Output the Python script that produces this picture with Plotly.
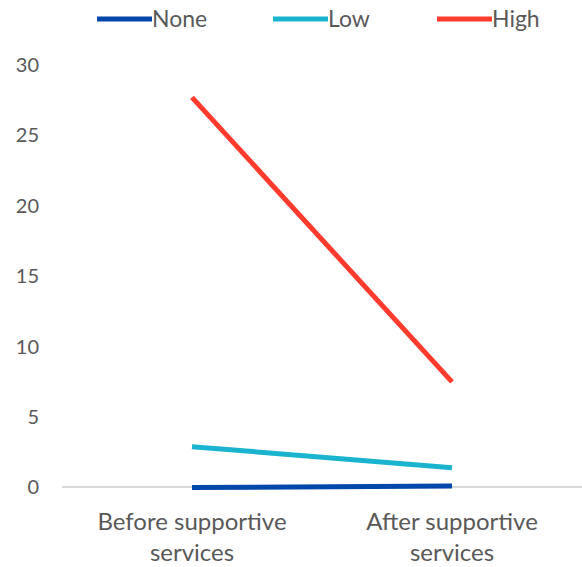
import plotly.graph_objects as go

# Categories and series values
stages = ["Before supportive<br>services", "After supportive<br>services"]
series_names = ["None", "Low", "High"]
none_vals = [0.0, 0.1]
low_vals = [2.9, 1.4]
high_vals = [27.7, 7.5]
y_ticks = [0, 5, 10, 15, 20, 25, 30]

colors = {"None": "#0047AB", "Low": "#1AB4CF", "High": "#FF3B2E"}
values = {"None": none_vals, "Low": low_vals, "High": high_vals}

W, H = 582, 567
FONT = "Lato, Open Sans, Liberation Sans, sans-serif"
TXT = "#595959"

fig = go.Figure()
for name in series_names:
    fig.add_trace(go.Scatter(
        x=[0, 1], y=values[name], mode="lines", name=name,
        line=dict(color=colors[name], width=5),
        showlegend=False,
    ))

# Legend drawn across the top: line swatch followed by label
legend_pos = {"None": 97, "Low": 273, "High": 437}
ly = 1 + (65 - 19) / (491.5 - 65)
for name in series_names:
    x0 = legend_pos[name]
    fig.add_shape(type="line", xref="paper", yref="paper",
                  x0=(x0 - 62) / (W - 62), x1=(x0 + 55 - 62) / (W - 62),
                  y0=ly, y1=ly,
                  line=dict(color=colors[name], width=5))
    fig.add_annotation(xref="paper", yref="paper",
                       x=(x0 + 55 - 62) / (W - 62), y=ly,
                       xanchor="left", yanchor="middle", showarrow=False,
                       xshift=-2, yshift=1, text=name,
                       font=dict(family=FONT, size=23, color=TXT))

fig.update_layout(
    width=W, height=H,
    margin=dict(l=62, r=0, t=65, b=75.5),
    paper_bgcolor="white", plot_bgcolor="white",
    font=dict(family=FONT, color=TXT),
)
fig.update_xaxes(
    range=[-0.5, 1.5], tickvals=[0, 1], ticktext=stages,
    showgrid=False, zeroline=False, showline=False,
    tickfont=dict(family=FONT, size=24, color=TXT),
    ticks="", ticklabelstandoff=14,
)
# small margin below zero so the baseline series is not clipped
fig.update_yaxes(
    range=[-0.25, 30], tickvals=y_ticks,
    showgrid=False, showline=False,
    zeroline=True, zerolinecolor="#D9D9D9", zerolinewidth=1.5,
    tickfont=dict(family=FONT, size=20, color=TXT),
    ticks="", ticklabelstandoff=22,
)

fig.write_html("out.html")
